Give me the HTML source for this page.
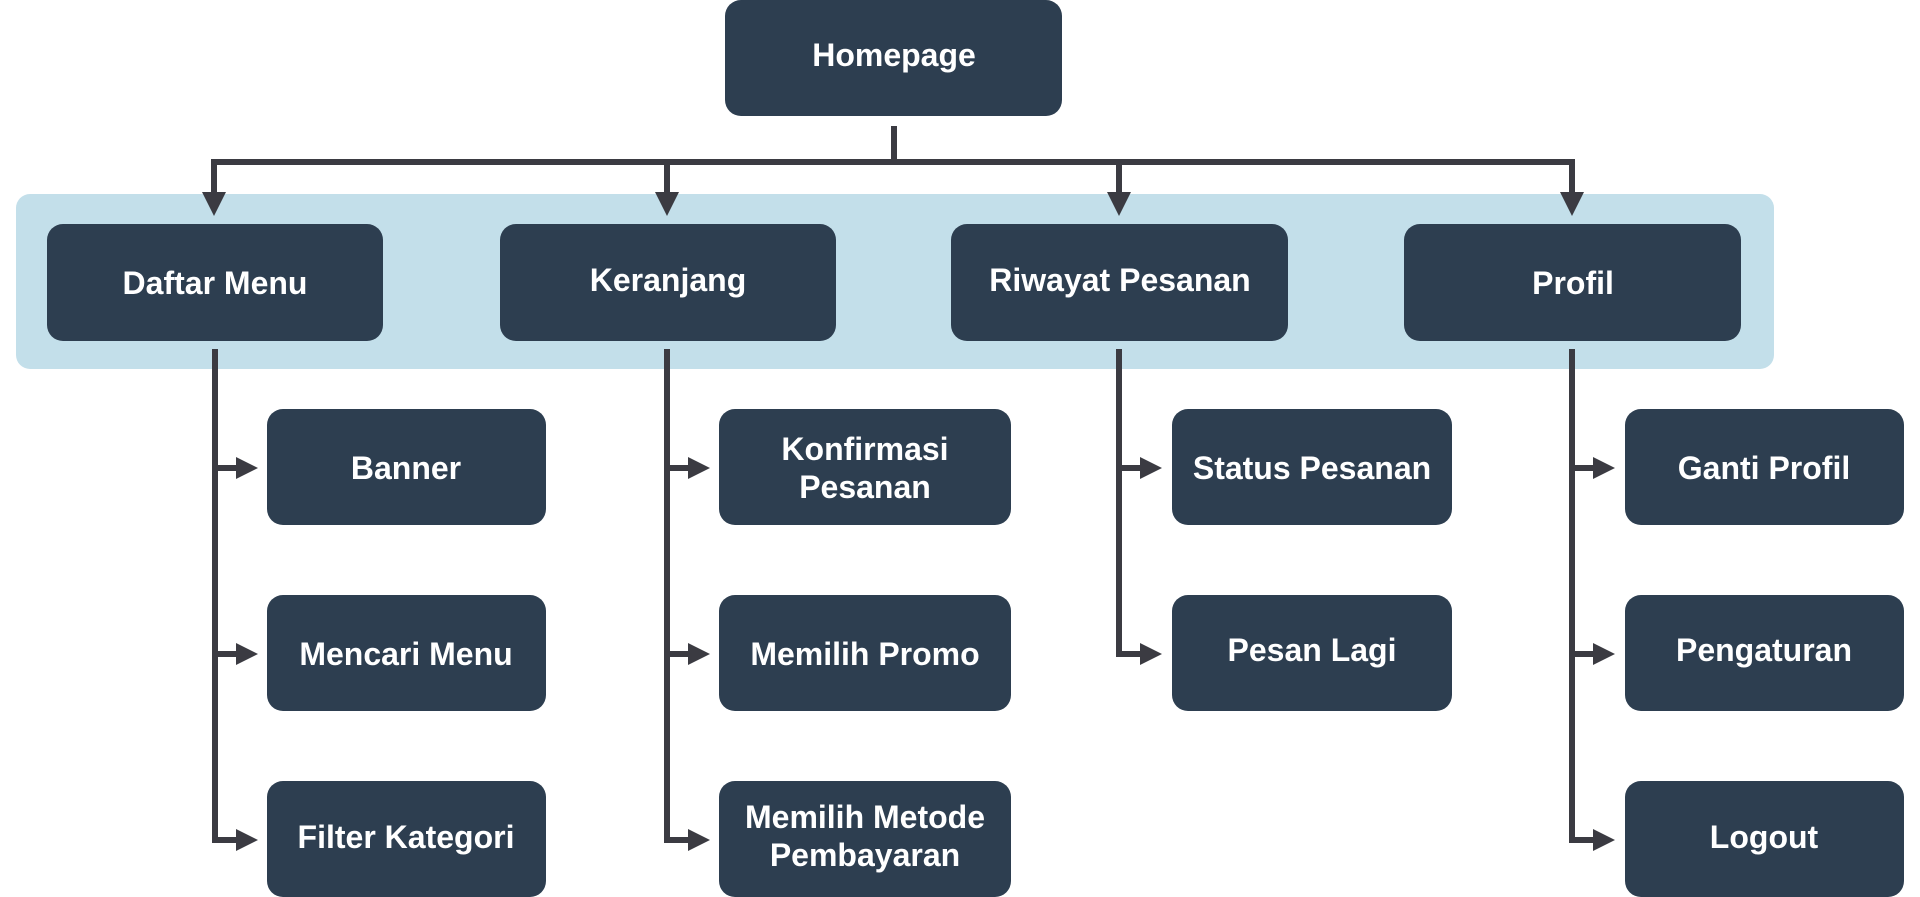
<!DOCTYPE html>
<html><head><meta charset="utf-8"><style>
html,body{margin:0;padding:0;background:#fff;}
svg{display:block}
text{font-family:"Liberation Sans",sans-serif;font-weight:bold;font-size:32px;fill:#fff;text-anchor:middle;dominant-baseline:central}
</style></head><body>
<svg width="1920" height="897" viewBox="0 0 1920 897">
<defs><marker id="a" markerWidth="4" markerHeight="4" refX="1" refY="2" orient="auto" markerUnits="strokeWidth"><path d="M0,0 L4,2 L0,4 z" fill="#3b3b42"/></marker></defs>
<rect x="16" y="194" width="1758" height="175" rx="14" fill="#c3dfea"/>
<g stroke="#3b3b42" stroke-width="6" fill="none">
<path d="M894 126 V162"/>
<path d="M214 162 H1572"/>
<path d="M214 159 V198" marker-end="url(#a)"/>
<path d="M667 159 V198" marker-end="url(#a)"/>
<path d="M1119 159 V198" marker-end="url(#a)"/>
<path d="M1572 159 V198" marker-end="url(#a)"/>
<path d="M215 349 V840 H238" />
<path d="M215 468 H238"/><path d="M215 654 H238"/>
<path d="M667 349 V840 H690"/>
<path d="M667 468 H690"/><path d="M667 654 H690"/>
<path d="M1119 349 V654 H1142"/>
<path d="M1119 468 H1142"/>
<path d="M1572 349 V840 H1595"/>
<path d="M1572 468 H1595"/><path d="M1572 654 H1595"/>
</g>
<g fill="#3b3b42">
<path d="M236 457 L258 468 L236 479z"/><path d="M236 643 L258 654 L236 665z"/><path d="M236 829 L258 840 L236 851z"/>
<path d="M688 457 L710 468 L688 479z"/><path d="M688 643 L710 654 L688 665z"/><path d="M688 829 L710 840 L688 851z"/>
<path d="M1140 457 L1162 468 L1140 479z"/><path d="M1140 643 L1162 654 L1140 665z"/>
<path d="M1593 457 L1615 468 L1593 479z"/><path d="M1593 643 L1615 654 L1593 665z"/><path d="M1593 829 L1615 840 L1593 851z"/>
</g>
<g fill="#2d3e50">
<rect x="725" y="0" width="337" height="116" rx="16"/>
<rect x="47" y="224" width="336" height="117" rx="16"/>
<rect x="500" y="224" width="336" height="117" rx="16"/>
<rect x="951" y="224" width="337" height="117" rx="16"/>
<rect x="1404" y="224" width="337" height="117" rx="16"/>
<rect x="267" y="409" width="279" height="116" rx="16"/>
<rect x="267" y="595" width="279" height="116" rx="16"/>
<rect x="267" y="781" width="279" height="116" rx="16"/>
<rect x="719" y="409" width="292" height="116" rx="16"/>
<rect x="719" y="595" width="292" height="116" rx="16"/>
<rect x="719" y="781" width="292" height="116" rx="16"/>
<rect x="1172" y="409" width="280" height="116" rx="16"/>
<rect x="1172" y="595" width="280" height="116" rx="16"/>
<rect x="1625" y="409" width="279" height="116" rx="16"/>
<rect x="1625" y="595" width="279" height="116" rx="16"/>
<rect x="1625" y="781" width="279" height="116" rx="16"/>
</g>
<text x="894" y="55">Homepage</text>
<text x="215" y="283">Daftar Menu</text>
<text x="668" y="280">Keranjang</text>
<text x="1120" y="280">Riwayat Pesanan</text>
<text x="1573" y="283">Profil</text>
<text x="406" y="468">Banner</text>
<text x="406" y="654">Mencari Menu</text>
<text x="406" y="837">Filter Kategori</text>
<text x="865" y="449">Konfirmasi</text>
<text x="865" y="487">Pesanan</text>
<text x="865" y="654">Memilih Promo</text>
<text x="865" y="817">Memilih Metode</text>
<text x="865" y="855">Pembayaran</text>
<text x="1312" y="468">Status Pesanan</text>
<text x="1312" y="650">Pesan Lagi</text>
<text x="1764" y="468">Ganti Profil</text>
<text x="1764" y="650">Pengaturan</text>
<text x="1764" y="837">Logout</text>
</svg>
</body></html>
